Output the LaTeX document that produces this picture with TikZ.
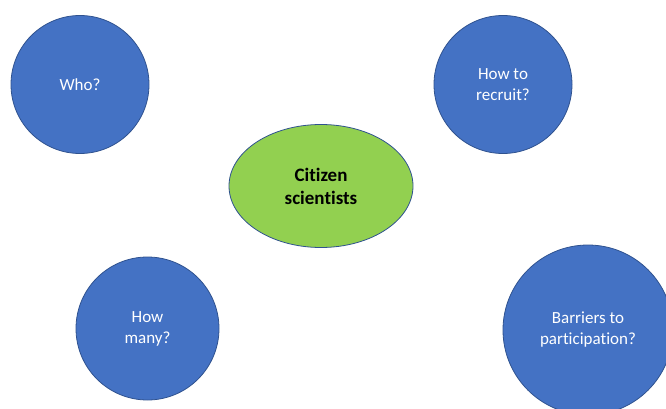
\documentclass[tikz,border=0pt]{standalone}
\usepackage{fontspec}
\setmainfont[Ligatures=NoCommon]{Carlito}
\usetikzlibrary{positioning, shapes.geometric}

\definecolor{qblue}{HTML}{4472C4}
\definecolor{qedge}{HTML}{2F528F}
\definecolor{qgreen}{HTML}{92D050}

\begin{document}
\begin{tikzpicture}[x=1pt, y=-1pt,
  question/.style={draw=qedge, fill=qblue, circle, line width=0.8pt, inner sep=0pt,
    text=white, align=center, font=\fontsize{17}{21}\selectfont},
  topic/.style={draw=qedge, fill=qgreen, ellipse, line width=0.8pt, inner sep=0pt,
    minimum width=184pt, minimum height=123pt, align=center,
    font=\fontsize{19}{23}\selectfont\bfseries}]
  \useasboundingbox (0,0) rectangle (666,409);
  \clip (0,0) rectangle (666,409);

  \node[topic]                            (centre)   at (321,186) {Citizen\\scientists};
  \node[question, minimum size=138pt]     (who)      at (80,84.5)   {Who?};
  \node[question, minimum size=138pt]     (recruit)  at (503,84.5)  {How to\\recruit?};
  \node[question, minimum size=143pt]     (many)     at (147.5,328.5) {How\\many?};
  \node[question, minimum size=170pt]     (barriers) at (588,330)   {Barriers to\\participation?};
\end{tikzpicture}
\end{document}
